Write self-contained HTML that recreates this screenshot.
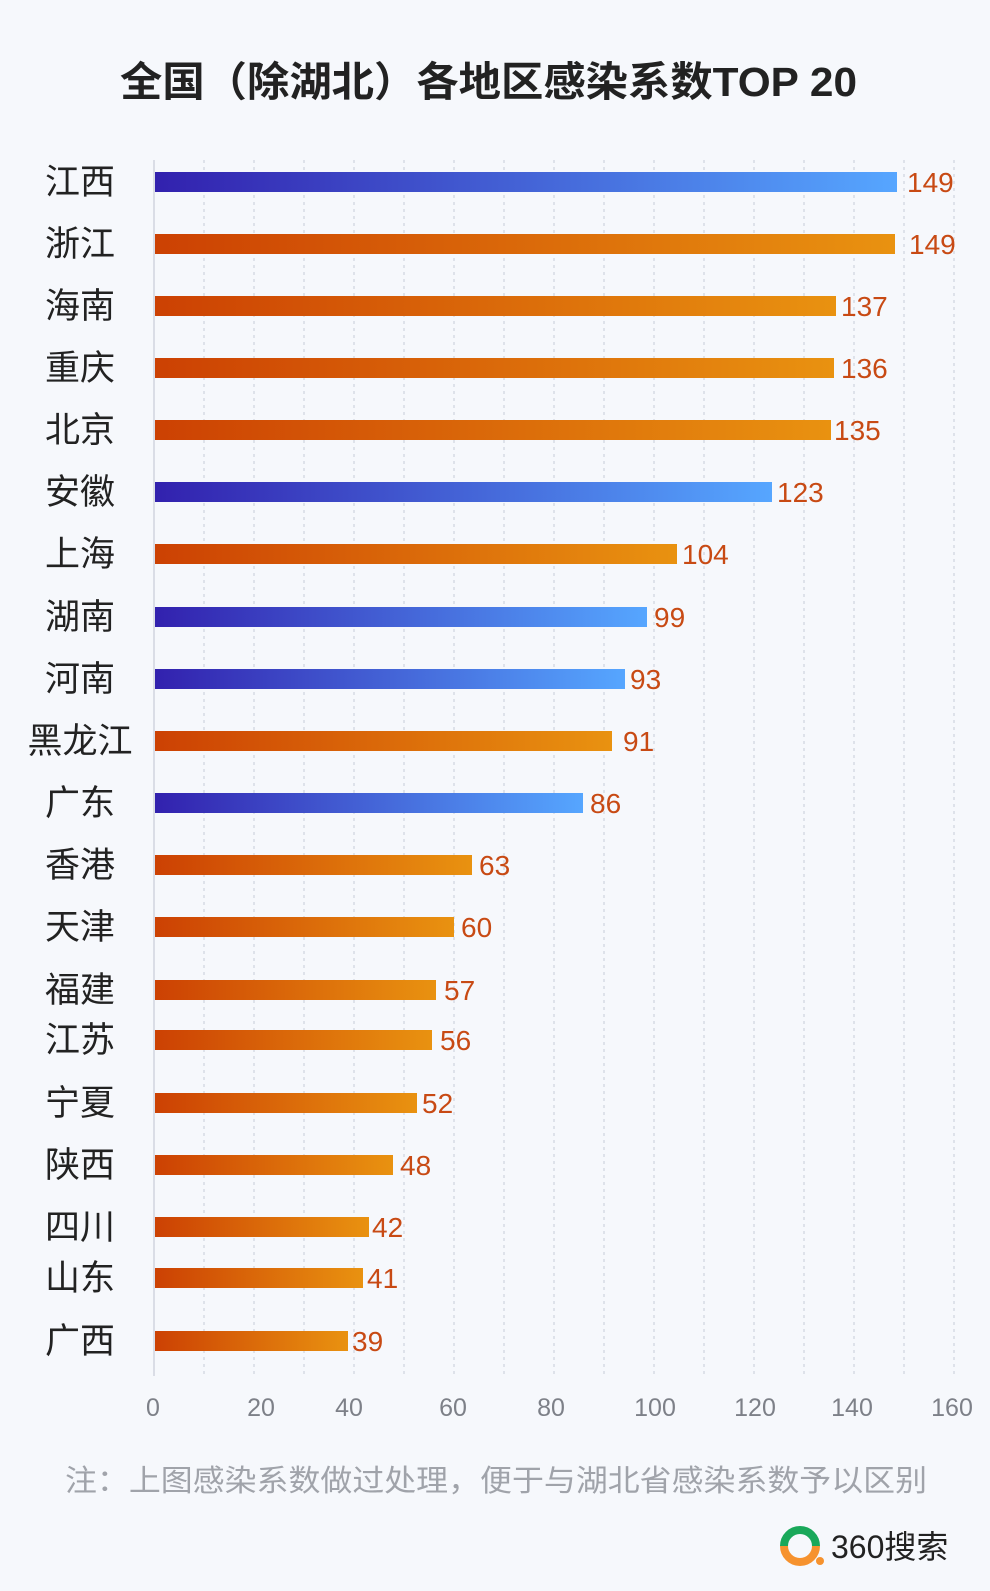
<!DOCTYPE html>
<html><head><meta charset="utf-8"><style>
html,body{margin:0;padding:0;background:#f6f8fc;}
svg{display:block}
text{font-family:"Liberation Sans","Noto Sans CJK SC",sans-serif;}
</style></head><body>
<svg width="990" height="1591" viewBox="0 0 990 1591" xmlns="http://www.w3.org/2000/svg">
<defs>
<linearGradient id="b" x1="0" x2="1" y1="0" y2="0"><stop offset="0" stop-color="#3221ae"/><stop offset="1" stop-color="#56a6ff"/></linearGradient>
<linearGradient id="o" x1="0" x2="1" y1="0" y2="0"><stop offset="0" stop-color="#cc4103"/><stop offset="1" stop-color="#e99210"/></linearGradient>
</defs>
<rect width="990" height="1591" fill="#f6f8fc"/>
<text x="120" y="96" font-size="41" font-weight="bold" fill="#222" textLength="737" lengthAdjust="spacingAndGlyphs">全国（除湖北）各地区感染系数TOP 20</text>
<g stroke="#cfd3df" stroke-width="1.2" stroke-dasharray="3,4">
<line x1="204" y1="160" x2="204" y2="1376"/><line x1="254" y1="160" x2="254" y2="1376"/><line x1="304" y1="160" x2="304" y2="1376"/><line x1="354" y1="160" x2="354" y2="1376"/><line x1="404" y1="160" x2="404" y2="1376"/><line x1="454" y1="160" x2="454" y2="1376"/><line x1="504" y1="160" x2="504" y2="1376"/><line x1="554" y1="160" x2="554" y2="1376"/><line x1="604" y1="160" x2="604" y2="1376"/><line x1="654" y1="160" x2="654" y2="1376"/><line x1="704" y1="160" x2="704" y2="1376"/><line x1="754" y1="160" x2="754" y2="1376"/><line x1="804" y1="160" x2="804" y2="1376"/><line x1="854" y1="160" x2="854" y2="1376"/><line x1="904" y1="160" x2="904" y2="1376"/><line x1="954" y1="160" x2="954" y2="1376"/>
</g>
<line x1="154" y1="160" x2="154" y2="1376" stroke="#d0d4de" stroke-width="1.5"/>
<g font-size="35" fill="#222" text-anchor="middle">
<text x="80" y="194">江西</text><text x="80" y="256">浙江</text><text x="80" y="318">海南</text><text x="80" y="380">重庆</text><text x="80" y="442">北京</text><text x="80" y="504">安徽</text><text x="80" y="566">上海</text><text x="80" y="629">湖南</text><text x="80" y="691">河南</text><text x="80" y="753">黑龙江</text><text x="80" y="815">广东</text><text x="80" y="877">香港</text><text x="80" y="939">天津</text><text x="80" y="1002">福建</text><text x="80" y="1052">江苏</text><text x="80" y="1115">宁夏</text><text x="80" y="1177">陕西</text><text x="80" y="1239">四川</text><text x="80" y="1290">山东</text><text x="80" y="1353">广西</text>
</g>
<g>
<rect x="155" y="172" width="742" height="20" fill="url(#b)"/>
<rect x="155" y="234" width="740" height="20" fill="url(#o)"/>
<rect x="155" y="296" width="681" height="20" fill="url(#o)"/>
<rect x="155" y="358" width="679" height="20" fill="url(#o)"/>
<rect x="155" y="420" width="676" height="20" fill="url(#o)"/>
<rect x="155" y="482" width="617" height="20" fill="url(#b)"/>
<rect x="155" y="544" width="522" height="20" fill="url(#o)"/>
<rect x="155" y="607" width="492" height="20" fill="url(#b)"/>
<rect x="155" y="669" width="470" height="20" fill="url(#b)"/>
<rect x="155" y="731" width="457" height="20" fill="url(#o)"/>
<rect x="155" y="793" width="428" height="20" fill="url(#b)"/>
<rect x="155" y="855" width="317" height="20" fill="url(#o)"/>
<rect x="155" y="917" width="299" height="20" fill="url(#o)"/>
<rect x="155" y="980" width="281" height="20" fill="url(#o)"/>
<rect x="155" y="1030" width="277" height="20" fill="url(#o)"/>
<rect x="155" y="1093" width="262" height="20" fill="url(#o)"/>
<rect x="155" y="1155" width="238" height="20" fill="url(#o)"/>
<rect x="155" y="1217" width="214" height="20" fill="url(#o)"/>
<rect x="155" y="1268" width="208" height="20" fill="url(#o)"/>
<rect x="155" y="1331" width="193" height="20" fill="url(#o)"/>
</g>
<g font-size="28" fill="#c84a14">
<text x="907" y="192">149</text><text x="909" y="254">149</text><text x="841" y="316">137</text><text x="841" y="378">136</text><text x="834" y="440">135</text><text x="777" y="502">123</text><text x="682" y="564">104</text><text x="654" y="627">99</text><text x="630" y="689">93</text><text x="623" y="751">91</text><text x="590" y="813">86</text><text x="479" y="875">63</text><text x="461" y="937">60</text><text x="444" y="1000">57</text><text x="440" y="1050">56</text><text x="422" y="1113">52</text><text x="400" y="1175">48</text><text x="372" y="1237">42</text><text x="367" y="1288">41</text><text x="352" y="1351">39</text>
</g>
<g font-size="25" fill="#7d8088" text-anchor="middle">
<text x="153" y="1416">0</text><text x="261" y="1416">20</text><text x="349" y="1416">40</text><text x="453" y="1416">60</text><text x="551" y="1416">80</text><text x="655" y="1416">100</text><text x="755" y="1416">120</text><text x="852" y="1416">140</text><text x="952" y="1416">160</text>
</g>
<text x="65" y="1491" font-size="30" fill="#a0a3aa" textLength="862" lengthAdjust="spacingAndGlyphs">注：上图感染系数做过处理，便于与湖北省感染系数予以区别</text>
<g>
<path d="M 784 1546 A 16 16 0 0 1 816 1546" fill="none" stroke="#19a85a" stroke-width="8"/>
<path d="M 784 1546 A 16 16 0 0 0 816 1546" fill="none" stroke="#f6922e" stroke-width="8"/>
<circle cx="820" cy="1561" r="4" fill="#f6922e"/>
<text x="831" y="1558" font-size="32" fill="#222">360搜索</text>
</g>
</svg>
</body></html>
